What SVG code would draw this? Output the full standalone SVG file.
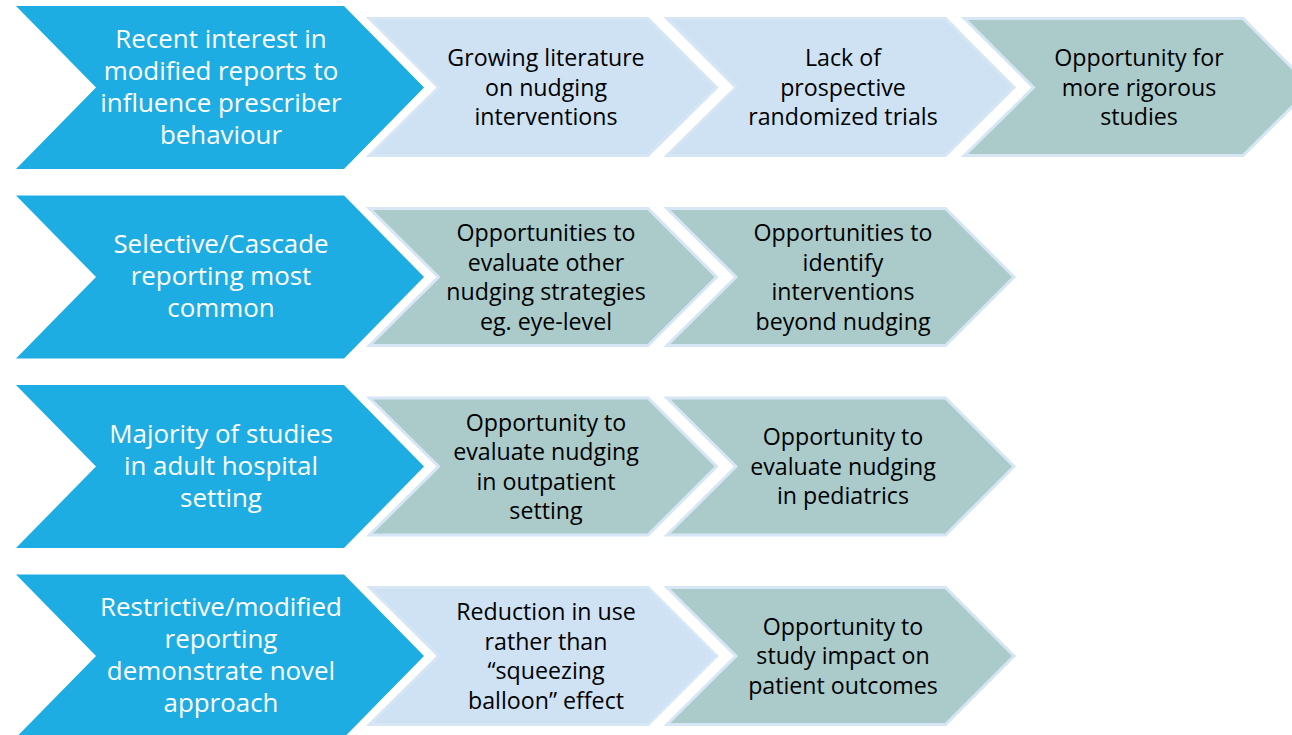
<svg xmlns="http://www.w3.org/2000/svg" width="1292" height="735" viewBox="0 0 1292 735">
<style>
.blue{fill:#1EADE3;}
.light{fill:#CFE2F3;stroke:#D6E6F5;stroke-width:3;stroke-linejoin:miter;}
.teal{fill:#AACBC9;stroke:#D6E6F5;stroke-width:3;stroke-linejoin:miter;}
.wt{font-family:"Open Sans","Noto Sans",sans-serif;font-size:25.9px;fill:#FFFFFF;text-anchor:middle;}
.dt{font-family:"Open Sans","Noto Sans",sans-serif;font-size:23.2px;fill:#000000;text-anchor:middle;}
</style>
<rect width="1292" height="735" fill="#FFFFFF"/>
<g id="connectors"></g>

<!-- Row 1 -->
<g id="r1-main">
<polygon class="blue" points="16,6 344,6 424,87.5 344,169 16,169 96,87.5"/>
<text class="wt"><tspan x="221" y="48">Recent interest in</tspan><tspan x="221" y="80">modified reports to</tspan><tspan x="221" y="112">influence prescriber</tspan><tspan x="221" y="144">behaviour</tspan></text>
</g>
<g id="r1-a">
<polygon class="light" points="369.5,18.5 648,18.5 716.5,87.5 648,155.5 369.5,155.5 438.5,87.5"/>
<text class="dt"><tspan x="546" y="66">Growing literature</tspan><tspan x="546" y="95.5">on nudging</tspan><tspan x="546" y="125">interventions</tspan></text>
</g>
<g id="r1-b">
<polygon class="light" points="667,18.5 945.5,18.5 1014,87.5 945.5,155.5 667,155.5 736,87.5"/>
<text class="dt"><tspan x="843" y="66">Lack of</tspan><tspan x="843" y="95.5">prospective</tspan><tspan x="843" y="125">randomized trials</tspan></text>
</g>
<g id="r1-c">
<polygon class="teal" points="964.5,18.5 1243,18.5 1311.5,87.5 1243,155.5 964.5,155.5 1033.5,87.5"/>
<text class="dt"><tspan x="1139" y="66">Opportunity for</tspan><tspan x="1139" y="95.5">more rigorous</tspan><tspan x="1139" y="125">studies</tspan></text>
</g>

<!-- Row 2 -->
<g id="r2-main">
<polygon class="blue" points="16,195.5 344,195.5 424,277 344,358.5 16,358.5 96,277"/>
<text class="wt"><tspan x="221" y="253">Selective/Cascade</tspan><tspan x="221" y="285">reporting most</tspan><tspan x="221" y="317">common</tspan></text>
</g>
<g id="r2-a">
<polygon class="teal" points="369.5,208.5 648,208.5 716.5,277 648,345.5 369.5,345.5 438.5,277"/>
<text class="dt"><tspan x="546" y="241">Opportunities to</tspan><tspan x="546" y="270.5">evaluate other</tspan><tspan x="546" y="300">nudging strategies</tspan><tspan x="546" y="329.5">eg. eye-level</tspan></text>
</g>
<g id="r2-b">
<polygon class="teal" points="667,208.5 945.5,208.5 1014,277 945.5,345.5 667,345.5 736,277"/>
<text class="dt"><tspan x="843" y="241">Opportunities to</tspan><tspan x="843" y="270.5">identify</tspan><tspan x="843" y="300">interventions</tspan><tspan x="843" y="329.5">beyond nudging</tspan></text>
</g>

<!-- Row 3 -->
<g id="r3-main">
<polygon class="blue" points="16,385 344,385 424,466.5 344,548 16,548 96,466.5"/>
<text class="wt"><tspan x="221" y="443">Majority of studies</tspan><tspan x="221" y="475">in adult hospital</tspan><tspan x="221" y="507">setting</tspan></text>
</g>
<g id="r3-a">
<polygon class="teal" points="369.5,398 648,398 716.5,466.5 648,535 369.5,535 438.5,466.5"/>
<text class="dt"><tspan x="546" y="430.5">Opportunity to</tspan><tspan x="546" y="460">evaluate nudging</tspan><tspan x="546" y="489.5">in outpatient</tspan><tspan x="546" y="519">setting</tspan></text>
</g>
<g id="r3-b">
<polygon class="teal" points="667,398 945.5,398 1014,466.5 945.5,535 667,535 736,466.5"/>
<text class="dt"><tspan x="843" y="445">Opportunity to</tspan><tspan x="843" y="474.5">evaluate nudging</tspan><tspan x="843" y="504">in pediatrics</tspan></text>
</g>

<!-- Row 4 -->
<g id="r4-main">
<polygon class="blue" points="16,574.5 344,574.5 424,656 344,737.5 16,737.5 96,656"/>
<text class="wt"><tspan x="221" y="616">Restrictive/modified</tspan><tspan x="221" y="648">reporting</tspan><tspan x="221" y="680">demonstrate novel</tspan><tspan x="221" y="712">approach</tspan></text>
</g>
<g id="r4-a">
<polygon class="light" points="369.5,587.5 648,587.5 716.5,656 648,724.5 369.5,724.5 438.5,656"/>
<text class="dt"><tspan x="546" y="620">Reduction in use</tspan><tspan x="546" y="649.5">rather than</tspan><tspan x="546" y="679">“squeezing</tspan><tspan x="546" y="708.5">balloon” effect</tspan></text>
</g>
<g id="r4-b">
<polygon class="teal" points="667,587.5 945.5,587.5 1014,656 945.5,724.5 667,724.5 736,656"/>
<text class="dt"><tspan x="843" y="634.5">Opportunity to</tspan><tspan x="843" y="664">study impact on</tspan><tspan x="843" y="693.5">patient outcomes</tspan></text>
</g>
</svg>
